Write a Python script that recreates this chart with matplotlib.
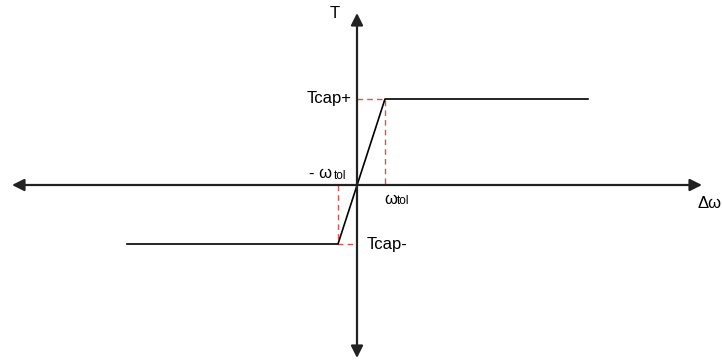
import matplotlib.pyplot as plt

plt.rcParams['font.family'] = ['Liberation Sans', 'DejaVu Sans']

# speed error (x) and torque (y) of the limiter characteristic, in drawing units
omega = [-230, -19, 28, 231]
torque = [-59, -59, 86, 86]
w_tol_neg, w_tol_pos = -19, 28
t_cap_neg, t_cap_pos = -59, 86

# axis extents
x_axis = (-345, 345)
y_axis = (-173, 172)

AX_COLOR = "#222222"
DASH_COLOR = "#d9534f"

fig = plt.figure(figsize=(7.22, 3.62), dpi=100)
ax = fig.add_axes([0, 0, 1, 1])
ax.set_xlim(-357, 365)
ax.set_ylim(-177, 185)
ax.axis("off")

arrow = dict(arrowstyle="<|-|>", color=AX_COLOR, lw=1.6, mutation_scale=18,
             shrinkA=0, shrinkB=0)
ax.annotate("", xy=(x_axis[1], 0), xytext=(x_axis[0], 0), arrowprops=arrow)
ax.annotate("", xy=(0, y_axis[1]), xytext=(0, y_axis[0]), arrowprops=arrow)

# red dashed guides
ax.plot([0, w_tol_pos, w_tol_pos], [t_cap_pos, t_cap_pos, 0],
        ls=(0, (4, 3)), c=DASH_COLOR, lw=1.0)
ax.plot([w_tol_neg, w_tol_neg, 0], [0, t_cap_neg, t_cap_neg],
        ls=(0, (4, 3)), c=DASH_COLOR, lw=1.0)

# characteristic
ax.plot(omega, torque, c="black", lw=1.2)

fs = 12
ax.text(-22, 172, "T", fontsize=fs, ha="center", va="center")
ax.text(-5, t_cap_pos + 1, "Tcap+", fontsize=fs, ha="right", va="center")
ax.text(10, t_cap_neg, "Tcap-", fontsize=fs, ha="left", va="center")
ax.text(340, -18, "Δω", fontsize=fs, ha="left", va="center")

ax.text(-48, 11, "- ω", fontsize=fs, ha="left", va="center")
ax.text(-23, 9, "tol", fontsize=8.5, ha="left", va="center")
ax.text(w_tol_pos - 1, -14, "ω", fontsize=fs, ha="left", va="center")
ax.text(w_tol_pos + 12, -16, "tol", fontsize=8.5, ha="left", va="center")

fig.savefig("out.png", dpi=100)
